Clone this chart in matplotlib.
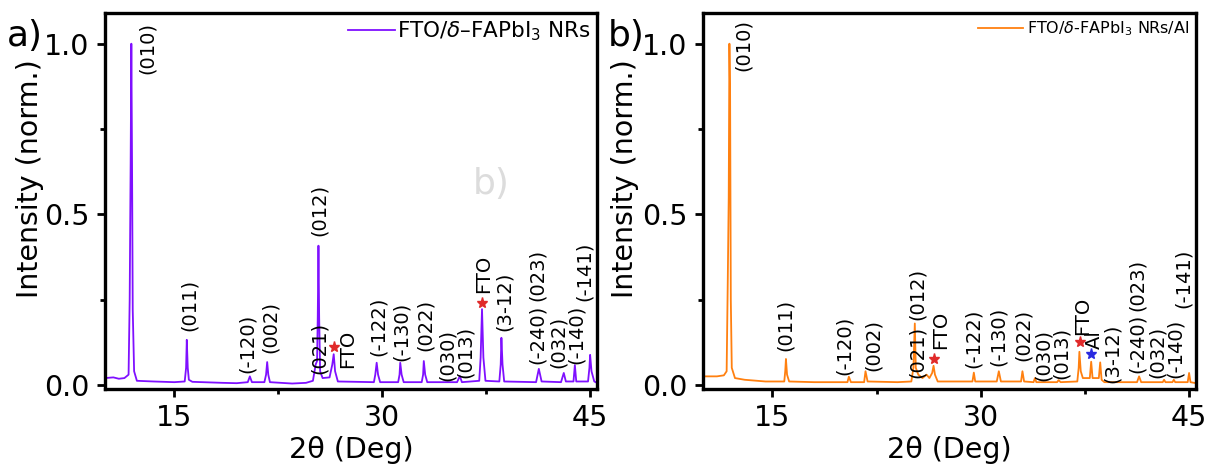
import matplotlib
matplotlib.use('Agg')
from matplotlib import pyplot as plt

# 2theta / intensity vertices (panel a)
tt_a = [10.0, 10.6, 11.0, 11.4, 11.7, 11.78, 11.85, 11.9, 11.95, 12.0, 12.1, 12.3,
        13.5, 15.0, 15.75, 15.85, 15.9, 15.97, 16.05, 16.3, 18.5, 19.5, 20.3, 20.45,
        20.6, 21.5, 21.62, 21.7, 21.78, 21.9, 23.5, 24.5, 25.0, 25.2, 25.3, 25.35,
        25.4, 25.45, 25.52, 25.7, 26.2, 26.4, 26.5, 26.6, 26.8, 29.4, 29.5, 29.6,
        29.7, 29.85, 31.15, 31.25, 31.3, 31.4, 31.55, 32.85, 32.95, 33.0, 33.1, 33.25,
        35.4, 35.6, 35.75, 37.0, 37.1, 37.2, 37.3, 37.45, 38.45, 38.55, 38.6, 38.68,
        38.8, 41.1, 41.3, 41.5, 42.9, 43.1, 43.25, 43.8, 43.9, 44.0, 44.85, 44.95,
        45.0, 45.1, 45.3, 45.5]
int_a = [0.02, 0.022, 0.018, 0.02, 0.03, 0.25, 0.65, 1.0, 0.65, 0.22, 0.04, 0.012,
         0.01, 0.008, 0.01, 0.05, 0.132, 0.05, 0.015, 0.009, 0.006, 0.005, 0.008, 0.025,
         0.008, 0.008, 0.03, 0.067, 0.03, 0.008, 0.004, 0.006, 0.012, 0.06, 0.07, 0.2,
         0.408, 0.2, 0.04, 0.02, 0.022, 0.06, 0.09, 0.04, 0.01, 0.008, 0.03, 0.065,
         0.03, 0.008, 0.008, 0.03, 0.065, 0.03, 0.008, 0.008, 0.03, 0.07, 0.03, 0.008,
         0.008, 0.026, 0.008, 0.012, 0.08, 0.222, 0.08, 0.012, 0.01, 0.06, 0.138, 0.06,
         0.01, 0.008, 0.047, 0.01, 0.008, 0.035, 0.01, 0.01, 0.058, 0.01, 0.01, 0.05,
         0.088, 0.04, 0.01, 0.006]

# orange trace (panel b)
tt_b = [10.0, 11.0, 11.5, 11.7, 11.78, 11.85, 11.9, 11.95, 12.0, 12.07, 12.3, 13.0,
        14.5, 15.85, 15.92, 15.97, 16.05, 16.2, 18.0, 20.4, 20.5, 20.65, 21.6, 21.7,
        21.85, 24.0, 25.0, 25.15, 25.25, 25.32, 25.5, 25.8, 26.1, 26.3, 26.5, 26.6,
        26.7, 26.9, 29.4, 29.5, 29.6, 31.15, 31.3, 31.45, 32.9, 33.0, 33.12, 33.8,
        33.9, 34.0, 35.5, 35.6, 35.75, 36.95, 37.05, 37.1, 37.2, 37.35, 37.5, 37.85,
        37.95, 38.05, 38.2, 38.5, 38.6, 38.7, 38.9, 41.25, 41.4, 41.55, 43.1, 43.2,
        43.3, 43.8, 43.9, 44.0, 44.9, 45.0, 45.1, 45.5]
int_b = [0.025, 0.025, 0.028, 0.04, 0.3, 0.55, 1.0, 0.85, 0.25, 0.05, 0.02, 0.015,
         0.01, 0.01, 0.04, 0.076, 0.03, 0.01, 0.008, 0.008, 0.024, 0.008, 0.008, 0.04,
         0.01, 0.008, 0.01, 0.05, 0.18, 0.05, 0.03, 0.02, 0.03, 0.02, 0.035, 0.056,
         0.03, 0.01, 0.01, 0.036, 0.01, 0.01, 0.04, 0.01, 0.01, 0.04, 0.01, 0.008,
         0.02, 0.008, 0.008, 0.014, 0.008, 0.01, 0.05, 0.097, 0.04, 0.02, 0.02, 0.02,
         0.068, 0.02, 0.02, 0.02, 0.066, 0.015, 0.008, 0.008, 0.025, 0.008, 0.008, 0.015,
         0.008, 0.008, 0.015, 0.008, 0.008, 0.035, 0.008, 0.005]

# peak labels: text, 2theta, intensity where the (rotated) text starts
labels_a = ['(010)', '(011)', '(-120)', '(002)', '(021)', '(012)', 'FTO', '(-122)',
            '(-130)', '(022)', '(030)', '(013)', 'FTO', '(3-12)', '(-240)', '(023)',
            '(032)', '(-140)', '(-141)']
lab_x_a = [13.05, 16.1, 20.3, 21.9, 25.45, 25.5, 27.5, 29.7, 31.4, 33.1, 34.7, 36.0,
           37.3, 38.8, 41.2, 41.2, 42.7, 44.0, 44.6]
lab_y_a = [0.91, 0.158, 0.035, 0.094, 0.032, 0.437, 0.05, 0.085, 0.07, 0.1, 0.012,
           0.02, 0.27, 0.158, 0.062, 0.246, 0.05, 0.06, 0.246]

labels_b = ['(010)', '(011)', '(-120)', '(002)', '(021)', '(012)', 'FTO', '(-122)',
            '(-130)', '(022)', '(030)', '(013)', 'FTO', 'Al', '(3-12)', '(-240)',
            '(023)', '(032)', '(-140)', '(-141)']
lab_x_b = [12.9, 15.95, 20.2, 22.3, 25.4, 25.4, 27.1, 29.5, 31.3, 33.1, 34.5, 35.8,
           37.3, 38.2, 39.5, 41.3, 41.3, 42.7, 44.0, 44.6]
lab_y_b = [0.92, 0.1, 0.03, 0.04, 0.02, 0.19, 0.105, 0.05, 0.055, 0.07, 0.012, 0.018,
           0.145, 0.105, 0.005, 0.035, 0.217, 0.02, 0.02, 0.225]

# asterisks over substrate / electrode reflections
star_a_x = [26.5, 37.2]
star_a_y = [0.11, 0.24]
star_b_x = [26.6, 37.15]
star_b_y = [0.076, 0.125]
star_al_x = [37.95]
star_al_y = [0.09]

PURPLE = '#7f10ff'
ORANGE = '#ff8010'


def style_axes(ax):
   ax.set_xlim(10, 45.5)
   ax.set_ylim(-0.012, 1.09)
   ax.set_xticks([15, 30, 45])
   ax.set_xticks([22.5, 37.5], minor=True)
   ax.set_yticks([0.0, 0.5, 1.0])
   ax.set_yticks([0.25, 0.75], minor=True)
   ax.set_yticklabels(['0.0', '0.5', '1.0'])
   ax.tick_params(which='major', direction='out', length=6, width=2,
                  labelsize=20.5, pad=5)
   ax.tick_params(which='minor', direction='out', length=3.5, width=2)
   for spine in ax.spines.values():
      spine.set_linewidth(2.4)
   ax.set_xlabel('2θ (Deg)', fontsize=20.5)
   ax.set_ylabel('Intensity (norm.)', fontsize=20.5)
   ax.xaxis.set_label_coords(0.5, -0.125)


def draw_labels(ax, texts, xs, ys):
   for text, x, y in zip(texts, xs, ys):
      ax.text(x, y, text, rotation=90, ha='center', va='bottom', fontsize=14)


def main():
   fig = plt.figure(figsize=(12.14, 4.69), dpi=100)
   ax_a = fig.add_axes([0.0865, 0.1706, 0.4053, 0.8017])
   ax_b = fig.add_axes([0.5791, 0.1706, 0.4061, 0.8017])

   ax_a.plot(tt_a, int_a, color=PURPLE, lw=1.3, label='FTO/$\\delta$–FAPbI$_3$ NRs')
   ax_b.plot(tt_b, int_b, color=ORANGE, lw=1.3, label='FTO/$\\delta$-FAPbI$_3$ NRs/Al')

   style_axes(ax_a)
   style_axes(ax_b)
   ax_a.yaxis.set_label_coords(-0.125, 0.56)
   ax_b.yaxis.set_label_coords(-0.13, 0.56)

   draw_labels(ax_a, labels_a, lab_x_a, lab_y_a)
   draw_labels(ax_b, labels_b, lab_x_b, lab_y_b)

   ax_a.plot(star_a_x, star_a_y, ls='none', marker='*', ms=8, color='#e02a2a')
   ax_b.plot(star_b_x, star_b_y, ls='none', marker='*', ms=8, color='#e02a2a')
   ax_b.plot(star_al_x, star_al_y, ls='none', marker='*', ms=8, color='#2a2ae0')

   # faint leftover panel letter
   ax_a.text(36.5, 0.56, 'b)', fontsize=26, color='#dcdcdc')

   ax_a.legend(loc='upper right', frameon=False, fontsize=15.5, handlelength=2.2,
               handletextpad=0.1, borderaxespad=0.1, borderpad=0.2)
   ax_b.legend(loc='upper right', frameon=False, fontsize=11.5, handlelength=2.8,
               handletextpad=0.3, borderaxespad=0.1, borderpad=0.3)

   fig.text(0.006, 0.96, 'a)', fontsize=26, va='top')
   fig.text(0.501, 0.96, 'b)', fontsize=26, va='top')

   fig.savefig('out.png', dpi=100)


if __name__ == "__main__":
   main()
